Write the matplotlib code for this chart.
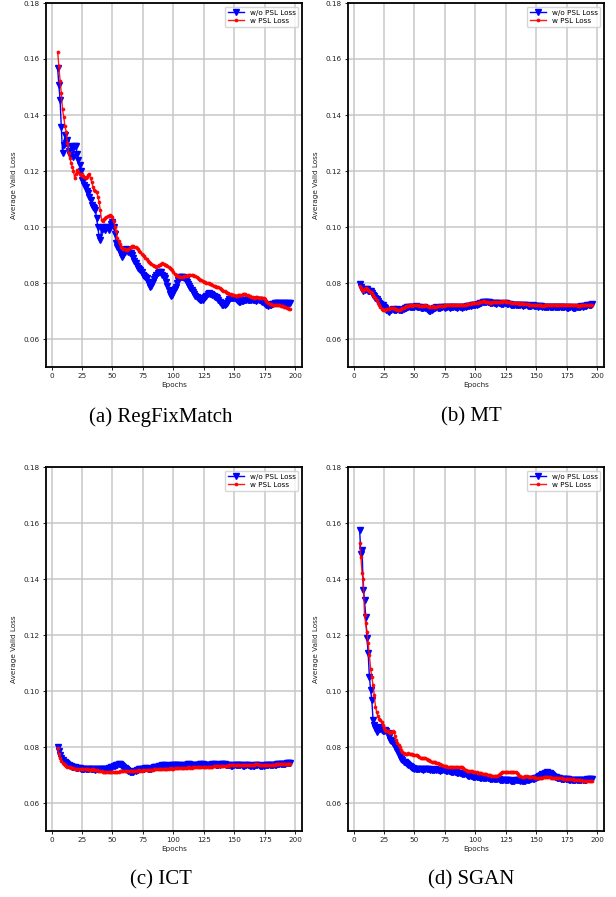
import matplotlib
matplotlib.use("Agg")
import matplotlib.pyplot as plt
import numpy as np

# epochs 5..196, losses (units of 1e-4)
epochs = list(range(5, 197))

regfix_wo = [1567, 1507, 1454, 1358, 1263, 1293, 1329, 1300, 1310, 1270,
             1257, 1290, 1287, 1250, 1289, 1289, 1260, 1239, 1222, 1200,
             1168, 1165, 1150, 1144, 1130, 1120, 1108, 1095, 1079, 1072,
             1067, 1060, 1031, 1000, 965, 954, 990, 1001, 995, 989,
             1001, 995, 989, 1000, 1010, 1019, 1001, 975, 942, 930,
             920, 912, 905, 894, 900, 910, 920, 918, 912, 908,
             906, 900, 890, 880, 870, 862, 855, 850, 846, 838,
             830, 826, 823, 818, 805, 795, 787, 790, 805, 815,
             823, 830, 836, 840, 840, 838, 830, 825, 817, 805,
             790, 775, 762, 753, 758, 770, 780, 787, 800, 812,
             820, 823, 822, 820, 817, 812, 805, 797, 790, 782,
             775, 768, 760, 755, 750, 746, 743, 741, 739, 741,
             745, 750, 755, 760, 763, 762, 760, 757, 753, 750,
             750, 748, 740, 733, 727, 723, 721, 722, 725, 730,
             737, 742, 746, 747, 746, 745, 742, 738, 735, 733,
             733, 734, 736, 738, 739, 740, 739, 738, 738, 739,
             740, 739, 738, 737, 738, 739, 738, 736, 733, 730,
             726, 722, 720, 719, 720, 722, 724, 726, 727, 727,
             728, 728, 727, 726, 727, 728, 728, 727, 726, 727,
             727, 728]
regfix_w = [1626, 1575, 1523, 1478, 1420, 1394, 1360, 1340, 1300, 1264,
            1246, 1230, 1215, 1200, 1175, 1190, 1204, 1195, 1190, 1185,
            1188, 1182, 1178, 1175, 1180, 1186, 1188, 1175, 1160, 1144,
            1133, 1130, 1126, 1108, 1090, 1060, 1025, 1022, 1028, 1032,
            1035, 1038, 1040, 1043, 1040, 1036, 1020, 1001, 985, 960,
            950, 940, 930, 925, 922, 920, 918, 918, 920, 925,
            930, 933, 933, 930, 927, 924, 920, 915, 910, 905,
            900, 895, 890, 885, 880, 875, 871, 868, 865, 862,
            860, 858, 860, 863, 866, 868, 870, 868, 866, 863,
            860, 858, 855, 850, 845, 838, 832, 829, 826, 824,
            823, 822, 822, 823, 824, 825, 826, 827, 828, 829,
            829, 828, 826, 824, 822, 818, 815, 812, 810, 807,
            805, 803, 801, 800, 799, 797, 795, 793, 790, 788,
            787, 786, 784, 781, 778, 775, 772, 770, 768, 766,
            764, 762, 760, 758, 757, 756, 755, 755, 756, 757,
            757, 758, 759, 760, 759, 758, 756, 754, 752, 750,
            749, 748, 748, 749, 749, 748, 747, 747, 748, 746,
            742, 737, 733, 729, 726, 724, 722, 721, 721, 722,
            722, 721, 720, 719, 718, 717, 716, 714, 712, 710,
            708, 706]

mt_wo = [795, 785, 778, 770, 775, 780, 778, 772, 770, 773,
         765, 758, 752, 748, 742, 735, 730, 725, 722, 720,
         715, 710, 705, 700, 698, 702, 705, 706, 704, 702,
         704, 706, 705, 703, 702, 704, 707, 710, 712, 713,
         714, 715, 715, 714, 715, 716, 717, 716, 715, 714,
         712, 710, 711, 713, 712, 708, 704, 700, 699, 702,
         706, 710, 712, 713, 712, 711, 712, 713, 714, 713,
         712, 713, 714, 713, 712, 713, 714, 715, 714, 713,
         712, 713, 714, 713, 712, 713, 715, 716, 717, 718,
         718, 719, 720, 721, 722, 722, 723, 724, 726, 728,
         730, 731, 732, 732, 733, 732, 731, 730, 729, 728,
         728, 727, 726, 727, 728, 727, 726, 725, 726, 727,
         727, 726, 725, 724, 723, 722, 722, 723, 722, 721,
         720, 720, 721, 720, 719, 720, 721, 720, 719, 718,
         718, 719, 720, 719, 718, 717, 716, 717, 718, 717,
         716, 715, 714, 714, 715, 716, 715, 714, 713, 714,
         715, 716, 715, 714, 713, 713, 714, 715, 714, 713,
         712, 712, 713, 714, 713, 712, 711, 712, 713, 714,
         715, 716, 717, 716, 717, 718, 719, 720, 721, 722,
         723, 724]
mt_w = [790, 783, 775, 772, 778, 783, 780, 775, 772, 768,
        763, 757, 750, 745, 738, 730, 722, 715, 708, 703,
        702, 704, 706, 707, 708, 709, 710, 710, 709, 707,
        706, 705, 704, 704, 706, 709, 712, 715, 717, 718,
        719, 720, 720, 719, 720, 721, 721, 720, 720, 719,
        718, 717, 718, 719, 720, 719, 718, 716, 715, 716,
        717, 716, 715, 716, 717, 718, 719, 719, 718, 719,
        720, 721, 722, 721, 720, 721, 722, 723, 722, 721,
        720, 721, 722, 723, 722, 721, 722, 723, 724, 725,
        725, 726, 727, 727, 728, 728, 729, 730, 731, 732,
        733, 734, 734, 733, 732, 731, 731, 730, 730, 731,
        731, 732, 732, 733, 733, 733, 732, 733, 734, 734,
        733, 732, 732, 731, 730, 729, 729, 728, 728, 727,
        727, 726, 726, 727, 726, 725, 725, 724, 724, 723,
        723, 723, 722, 722, 723, 722, 721, 721, 720, 720,
        719, 719, 720, 720, 721, 721, 720, 720, 721, 721,
        720, 720, 721, 721, 720, 720, 721, 722, 722, 721,
        721, 720, 720, 721, 721, 722, 721, 720, 720, 719,
        719, 719, 720, 720, 721, 721, 720, 720, 721, 721,
        722, 722]

ict_wo = [800, 785, 770, 760, 752, 748, 745, 742, 738, 735,
          733, 731, 730, 728, 727, 726, 725, 724, 724, 723,
          722, 722, 721, 721, 720, 721, 722, 722, 721, 720,
          720, 719, 720, 721, 722, 723, 722, 721, 720, 721,
          722, 723, 724, 725, 727, 729, 731, 733, 735, 737,
          738, 738, 736, 733, 729, 725, 721, 717, 714, 712,
          711, 711, 712, 714, 716, 718, 719, 720, 721, 722,
          722, 723, 724, 724, 723, 722, 722, 723, 725, 727,
          728, 729, 730, 731, 732, 733, 734, 735, 734, 733,
          732, 732, 733, 734, 735, 736, 737, 737, 736, 735,
          734, 733, 733, 734, 735, 736, 737, 738, 738, 737,
          736, 735, 734, 734, 735, 736, 737, 738, 738, 738,
          737, 736, 735, 734, 735, 736, 737, 738, 739, 738,
          737, 736, 736, 737, 738, 739, 739, 738, 737, 736,
          735, 734, 733, 733, 734, 735, 736, 737, 737, 736,
          735, 734, 733, 733, 734, 735, 735, 734, 733, 732,
          732, 733, 734, 735, 735, 734, 733, 732, 732, 733,
          734, 735, 736, 736, 735, 734, 734, 735, 736, 737,
          738, 738, 739, 739, 740, 740, 741, 741, 742, 742,
          742, 742]
ict_w = [795, 775, 760, 750, 743, 738, 735, 732, 730, 728,
         727, 726, 725, 724, 723, 722, 722, 721, 721, 720,
         720, 720, 721, 721, 720, 720, 719, 719, 720, 720,
         719, 718, 717, 716, 715, 714, 713, 712, 711, 711,
         710, 710, 710, 711, 711, 712, 712, 711, 711, 712,
         712, 713, 713, 714, 714, 715, 715, 714, 714, 715,
         716, 716, 715, 715, 716, 716, 717, 717, 716, 716,
         717, 717, 718, 718, 719, 719, 718, 718, 719, 720,
         720, 721, 721, 722, 722, 721, 721, 722, 722, 723,
         723, 723, 724, 724, 723, 723, 724, 724, 725, 725,
         724, 724, 725, 725, 726, 726, 726, 727, 727, 726,
         726, 727, 727, 728, 728, 728, 727, 727, 728, 728,
         729, 729, 730, 730, 729, 729, 730, 730, 731, 731,
         731, 732, 732, 732, 731, 731, 732, 732, 733, 733,
         733, 734, 734, 734, 735, 735, 735, 734, 734, 735,
         735, 736, 736, 736, 737, 737, 737, 736, 736, 737,
         737, 737, 738, 738, 738, 737, 737, 737, 736, 736,
         736, 736, 735, 735, 735, 736, 736, 737, 737, 738,
         738, 738, 739, 739, 739, 740, 740, 740, 741, 741,
         741, 741]

sgan_wo = [1575, 1490, 1505, 1361, 1325, 1265, 1190, 1134, 1051, 1004,
           968, 896, 880, 867, 855, 862, 870, 865, 860, 858,
           856, 862, 858, 850, 835, 825, 820, 815, 810, 800,
           795, 785, 775, 765, 758, 752, 748, 745, 742, 738,
           734, 731, 728, 726, 724, 723, 722, 721, 722, 723,
           722, 720, 719, 720, 721, 722, 721, 720, 719, 718,
           718, 719, 720, 719, 718, 717, 716, 717, 718, 718,
           717, 716, 715, 714, 713, 712, 712, 711, 710, 709,
           708, 708, 707, 706, 705, 704, 703, 702, 700, 698,
           696, 696, 695, 694, 694, 693, 693, 692, 692, 691,
           690, 690, 689, 689, 688, 688, 688, 687, 687, 686,
           686, 685, 685, 684, 684, 683, 683, 683, 682, 682,
           682, 681, 681, 681, 680, 680, 680, 680, 681, 682,
           682, 681, 680, 680, 679, 679, 680, 681, 682, 683,
           684, 685, 686, 687, 688, 690, 692, 695, 698, 700,
           703, 705, 707, 708, 709, 708, 706, 703, 700, 697,
           694, 692, 690, 689, 688, 687, 686, 686, 685, 685,
           684, 684, 683, 683, 682, 682, 681, 681, 681, 681,
           682, 682, 683, 683, 683, 683, 683, 684, 684, 684,
           684, 684]
sgan_w = [1527, 1480, 1420, 1400, 1271, 1242, 1212, 1170, 1128, 1080,
          1051, 1020, 986, 944, 925, 909, 900, 896, 890, 880,
          867, 862, 858, 856, 852, 850, 853, 856, 854, 840,
          825, 815, 808, 800, 790, 782, 778, 776, 775, 776,
          777, 776, 775, 774, 773, 773, 772, 770, 767, 764,
          762, 760, 760, 761, 760, 758, 755, 752, 750, 748,
          747, 746, 745, 744, 743, 741, 739, 737, 735, 733,
          732, 731, 730, 729, 728, 728, 729, 730, 730, 729,
          729, 729, 730, 729, 727, 724, 721, 718, 716, 715,
          715, 714, 713, 712, 711, 710, 709, 708, 707, 706,
          706, 705, 704, 703, 702, 701, 700, 699, 698, 697,
          696, 696, 697, 698, 701, 705, 708, 710, 711, 712,
          712, 712, 711, 711, 711, 712, 712, 711, 710, 706,
          702, 698, 695, 694, 694, 694, 695, 695, 694, 693,
          693, 692, 692, 692, 691, 691, 690, 690, 690, 691,
          691, 692, 692, 693, 693, 692, 692, 691, 691, 690,
          690, 690, 689, 689, 689, 688, 688, 687, 687, 686,
          686, 686, 685, 685, 684, 684, 683, 683, 682, 682,
          682, 681, 681, 680, 680, 680, 679, 679, 679, 678,
          678, 678]

captions = ["(a) RegFixMatch", "(b) MT", "(c) ICT", "(d) SGAN"]
panels = [(regfix_wo, regfix_w), (mt_wo, mt_w), (ict_wo, ict_w), (sgan_wo, sgan_w)]

W, H = 616, 897
fig = plt.figure(figsize=(W / 100, H / 100), dpi=100)

# axes boxes in pixels: left, top, right, bottom
boxes = [(46, 3, 302, 367), (348, 3, 604, 367),
         (46, 467, 302, 831), (348, 467, 604, 831)]
cap_pos = [(161, 417), (471, 417), (161, 880), (471, 880)]

for i, (wo, w) in enumerate(panels):
    l, t, r, b = boxes[i]
    ax = fig.add_axes([l / W, 1 - b / H, (r - l) / W, (b - t) / H])
    ax.plot(epochs, np.array(wo) / 1e4, color='blue', marker='v', markersize=3.7,
            linewidth=1, label='w/o PSL Loss')
    ax.plot(epochs, np.array(w) / 1e4, color='red', marker='.', markersize=3.4,
            linewidth=1, alpha=0.9, label='w PSL Loss')
    ax.set_ylim(0.05, 0.18)
    ax.set_yticks(np.arange(0.06, 0.181, 0.02))
    ax.set_xticks(range(0, 201, 25))
    ax.grid(True, color='#c8c8c8', linewidth=1.1)
    ax.tick_params(labelsize=5.2, length=2.5, width=0.7, pad=2, colors='#222222')
    for sp in ax.spines.values():
        sp.set_linewidth(1.3)
    ax.set_xlabel('Epochs', fontsize=5.2, labelpad=2, color='#222222')
    ax.set_ylabel('Average Valid Loss', fontsize=5.2, labelpad=5, color='#222222')
    ax.legend(loc='upper right', fontsize=5.2, handlelength=2.2, borderpad=0.4,
              labelspacing=0.3)
    cx, cy = cap_pos[i]
    fig.text(cx / W, 1 - cy / H, captions[i], ha='center', va='center',
             fontsize=15, family='Liberation Serif')

fig.savefig('out.png', dpi=100)
